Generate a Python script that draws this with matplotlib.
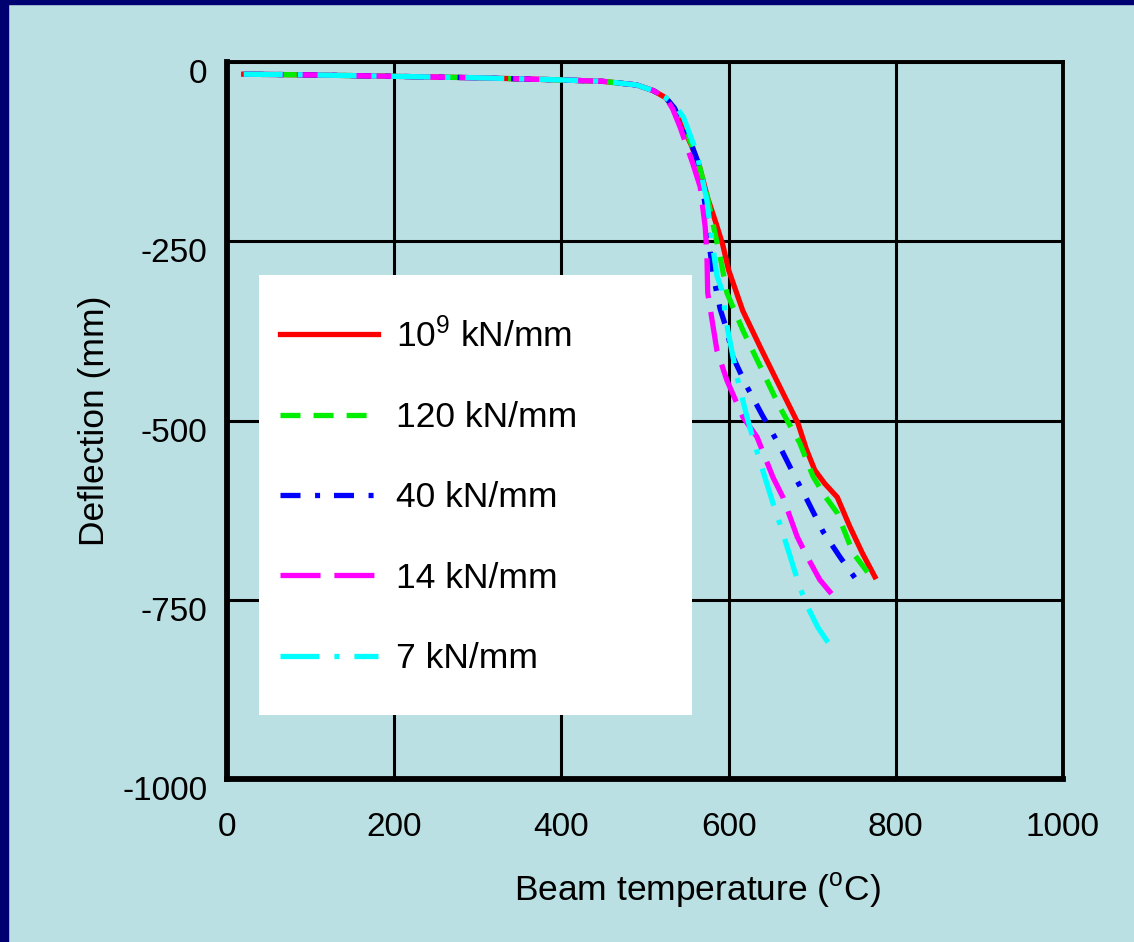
import matplotlib
matplotlib.use("Agg")
import matplotlib.pyplot as plt
import matplotlib.transforms as mtransforms
from matplotlib.patches import Rectangle

# shared pre-buckling part (all springs nearly identical)
t_common = [20, 100, 200, 300, 400, 450, 490, 510, 525]
d_common = [-17, -18, -20, -22, -25, -27, -32, -40, -50]

# 10^9 kN/mm
t_red = t_common + [535, 545, 555, 565, 575, 585, 593, 600, 617, 638, 660, 683, 693, 703, 715, 730, 745, 760, 775]
d_red = d_common + [-65, -90, -115, -145, -190, -225, -255, -290, -347, -398, -450, -504, -540, -569, -588, -607, -648, -685, -718]

# 120 kN/mm
t_green = t_common + [535, 545, 555, 565, 575, 583, 590, 598, 617, 638, 661, 685, 701, 715, 730, 749, 773]
d_green = d_common + [-64, -88, -113, -145, -190, -235, -272, -322, -374, -425, -481, -531, -578, -605, -629, -685, -722]

# 40 kN/mm
t_blue = t_common + [535, 545, 555, 565, 572, 578, 582, 590, 598, 605, 622, 640, 659, 677, 694, 713, 733, 757]
d_blue = d_common + [-64, -88, -113, -145, -200, -265, -300, -345, -374, -411, -453, -492, -531, -573, -611, -655, -690, -729]

# 14 kN/mm
t_mag = t_common + [533, 542, 557, 566, 572, 574, 575, 586, 598, 617, 634, 653, 665, 682, 694, 709, 724]
d_mag = d_common + [-65, -91, -141, -174, -230, -266, -322, -402, -444, -495, -523, -579, -607, -662, -690, -722, -743]

# 7 kN/mm
t_cyan = t_common + [537, 546, 562, 574, 580, 586, 592, 599, 610, 622, 629, 638, 653, 661, 670, 685, 695, 707, 721]
d_cyan = d_common + [-62, -77, -127, -193, -248, -298, -318, -374, -439, -495, -524, -559, -615, -643, -676, -732, -761, -789, -813]

labels = ["10$^9$ kN/mm", "120 kN/mm", "40 kN/mm", "14 kN/mm", "7 kN/mm"]
x_ticks = [0, 200, 400, 600, 800, 1000]
y_ticks = [0, -250, -500, -750, -1000]

plt.rcParams['font.family'] = ['Liberation Sans', 'DejaVu Sans']
plt.rcParams['mathtext.fontset'] = 'custom'
plt.rcParams['mathtext.rm'] = 'Liberation Sans'
plt.rcParams['mathtext.it'] = 'Liberation Sans'
plt.rcParams['lines.scale_dashes'] = False
plt.rcParams['axes.unicode_minus'] = False

bg = '#bbe0e3'
fig = plt.figure(figsize=(11.34, 9.42), dpi=100, facecolor=bg)

# navy slide border on left and top
fig.patches.append(Rectangle((0, 0), 8 / 1134, 1, transform=fig.transFigure, color='#000070', zorder=0))
fig.patches.append(Rectangle((0, 1 - 4 / 942), 1, 4 / 942, transform=fig.transFigure, color='#000070', zorder=0))

ax = fig.add_axes([227 / 1134, 1 - 779 / 942, (1063 - 227) / 1134, (779 - 62) / 942])
ax.set_facecolor(bg)

lw = 3.8
ax.plot(t_red, d_red, color='#ff0000', lw=lw, ls='-', label=labels[0], zorder=4)
ax.plot(t_green, d_green, color='#00ee00', lw=lw, dashes=(14.4, 9.4), label=labels[1], zorder=4)
ax.plot(t_blue, d_blue, color='#0000ff', lw=lw, dashes=(14.4, 10.5, 3.6, 10), label=labels[2], zorder=4)
ax.plot(t_mag, d_mag, color='#ff00ff', lw=lw, dashes=(28.8, 10), label=labels[3], zorder=4)
ax.plot(t_cyan, d_cyan, color='#00ffff', lw=lw, dashes=(28, 10.8, 3.6, 10.8), label=labels[4], zorder=4)

ax.set_xlim(0, 1000)
ax.set_ylim(-1000, 0)
ax.set_xticks(x_ticks)
ax.set_yticks(y_ticks)
ax.grid(True, color='black', lw=2.2)
ax.set_axisbelow(True)
ax.tick_params(length=0, labelsize=24, colors='black')
ax.tick_params(axis='x', pad=24)
ax.tick_params(axis='y', pad=14)
for s in ['left', 'bottom']:
    ax.spines[s].set_linewidth(4.2)
for s in ['top', 'right']:
    ax.spines[s].set_linewidth(2.8)

shift = mtransforms.ScaledTranslation(0, -9 / 100, fig.dpi_scale_trans)
for lab in ax.get_yticklabels():
    lab.set_transform(lab.get_transform() + shift)

ax.set_ylabel("Deflection (mm)", fontsize=25.5, labelpad=8)
fig.text(697 / 1134, 1 - 890 / 942, "Beam temperature ($^\\mathrm{o}$C)", fontsize=25.5,
         ha='center', va='center')

# white legend panel
ax.add_patch(Rectangle((259 / 1134, 1 - 715 / 942), (692 - 259) / 1134, (715 - 275) / 942,
                       transform=fig.transFigure, facecolor='white', edgecolor='none', zorder=3))
leg = ax.legend(loc='upper left', bbox_to_anchor=(280 / 1134, 1 - 317 / 942),
                bbox_transform=fig.transFigure, frameon=False, fontsize=25.5,
                handlelength=2.77, handletextpad=0.51, labelspacing=1.34, borderpad=0,
                borderaxespad=0)
leg.set_zorder(5)

fig.savefig("out.png", dpi=100, facecolor=bg)
